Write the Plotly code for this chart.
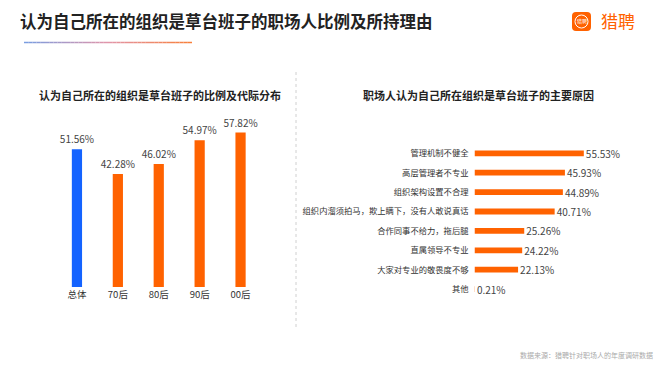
import plotly.graph_objects as go

# ---- data ----
gen_categories = ["总体", "70后", "80后", "90后", "00后"]
gen_values = [51.56, 42.28, 46.02, 54.97, 57.82]

reason_categories = [
    "管理机制不健全",
    "高层管理者不专业",
    "组织架构设置不合理",
    "组织内溜须拍马，欺上瞒下，没有人敢说真话",
    "合作同事不给力，拖后腿",
    "直属领导不专业",
    "大家对专业的敬畏度不够",
    "其他",
]
reason_values = [55.53, 45.93, 44.89, 40.71, 25.26, 24.22, 22.13, 0.21]

W, H = 660, 372
FONT = "Noto Sans CJK SC"
ORANGE = "#FF6200"
BLUE = "#1463FF"

def px(x):
    return x / W

def py(y):
    return 1 - y / H

fig = go.Figure()

gen_colors = [BLUE] + [ORANGE] * (len(gen_categories) - 1)
fig.add_trace(go.Bar(
    x=gen_categories, y=gen_values, marker=dict(color=gen_colors, line=dict(width=0)),
    width=0.25, text=[f"{v:.2f}%" for v in gen_values], textposition="outside",
    constraintext="none",
    textfont=dict(size=10, color="#444", family=FONT), cliponaxis=False,
    xaxis="x", yaxis="y", hoverinfo="skip",
))

fig.add_trace(go.Bar(
    y=reason_categories, x=reason_values, orientation="h",
    marker=dict(color=ORANGE, line=dict(width=0)), width=0.3,
    text=[f"\u2009{v:.2f}%" for v in reason_values], textposition="outside",
    constraintext="none",
    textfont=dict(size=10, color="#444", family=FONT), cliponaxis=False,
    xaxis="x2", yaxis="y2", hoverinfo="skip",
))

fig.update_layout(
    width=W, height=H, margin=dict(l=0, r=0, t=0, b=0),
    paper_bgcolor="white", plot_bgcolor="white", showlegend=False,
    font=dict(family=FONT, color="#333"),
    xaxis=dict(domain=[px(56.5), px(261)], showgrid=False, zeroline=False, showline=False,
               ticks="", tickfont=dict(size=9.5, color="#333"), fixedrange=True),
    yaxis=dict(domain=[py(287), py(100)], range=[0, 70], visible=False, fixedrange=True),
    xaxis2=dict(domain=[px(474.5), px(632)], range=[0, 80], visible=False, anchor="y2"),
    yaxis2=dict(domain=[py(298.8), py(143.6)], anchor="x2", autorange="reversed",
                showgrid=False, zeroline=False, showline=False, ticks="",
                tickfont=dict(size=8.3, color="#333"), ticklabelstandoff=5),
    bargap=0.5,
)

annotations = [
    dict(text="<b>认为自己所在的组织是草台班子的职场人比例及所持理由</b>", x=px(18), y=py(21),
         xanchor="left", yanchor="middle", font=dict(size=16.5, color="#222", family=FONT)),
    dict(text="<b>认为自己所在的组织是草台班子的比例及代际分布</b>", x=px(160), y=py(95),
         xanchor="center", yanchor="middle", font=dict(size=11, color="#222", family=FONT)),
    dict(text="<b>职场人认为自己所在组织是草台班子的主要原因</b>", x=px(478), y=py(95),
         xanchor="center", yanchor="middle", font=dict(size=11, color="#222", family=FONT)),
    dict(text="数据来源：猎聘针对职场人的年度调研数据", x=px(655), y=py(355),
         xanchor="right", yanchor="middle", font=dict(size=7, color="#aaa", family=FONT)),
    dict(text="猎聘", x=px(599), y=py(21), xanchor="left", yanchor="middle",
         font=dict(size=17, color=ORANGE, family=FONT)),
    dict(text="猎聘", x=px(581.5), y=py(21.5), xanchor="center", yanchor="middle",
         font=dict(size=5, color="white", family=FONT)),
]
for a in annotations:
    a.update(xref="paper", yref="paper", showarrow=False)
fig.update_layout(annotations=annotations)

shapes = []
# gradient underline
x0, x1, n = 24, 192, 40
c0 = (122, 157, 224)
cm = (226, 150, 170)
c1 = (248, 128, 60)
for i in range(n):
    t = i / (n - 1)
    if t < 0.5:
        u = t / 0.5
        c = tuple(int(c0[k] + (cm[k] - c0[k]) * u) for k in range(3))
    else:
        u = (t - 0.5) / 0.5
        c = tuple(int(cm[k] + (c1[k] - cm[k]) * u) for k in range(3))
    xa = x0 + (x1 - x0) * i / n
    xb = x0 + (x1 - x0) * (i + 1) / n
    shapes.append(dict(type="line", xref="paper", yref="paper", x0=px(xa), x1=px(xb),
                       y0=py(42.5), y1=py(42.5), line=dict(color=f"rgb{c}", width=1.5)))
# divider
shapes.append(dict(type="line", xref="paper", yref="paper", x0=px(296), x1=px(296),
                   y0=py(72), y1=py(330), line=dict(color="#d0d0d0", width=1, dash="dot")))
# logo: rounded orange square with white bubble outline
lx0, lx1, ly0, ly1, r = 572, 591, 12, 31, 4
path = (f"M {px(lx0 + r)},{py(ly0)} L {px(lx1 - r)},{py(ly0)} "
        f"Q {px(lx1)},{py(ly0)} {px(lx1)},{py(ly0 + r)} L {px(lx1)},{py(ly1 - r)} "
        f"Q {px(lx1)},{py(ly1)} {px(lx1 - r)},{py(ly1)} L {px(lx0 + r)},{py(ly1)} "
        f"Q {px(lx0)},{py(ly1)} {px(lx0)},{py(ly1 - r)} L {px(lx0)},{py(ly0 + r)} "
        f"Q {px(lx0)},{py(ly0)} {px(lx0 + r)},{py(ly0)} Z")
shapes.append(dict(type="path", xref="paper", yref="paper", path=path,
                   fillcolor=ORANGE, line=dict(width=0)))
shapes.append(dict(type="circle", xref="paper", yref="paper", x0=px(575), x1=px(588),
                   y0=py(28), y1=py(15), fillcolor="rgba(0,0,0,0)",
                   line=dict(color="white", width=1)))
fig.update_layout(shapes=shapes)

fig.write_html("out.html", config={"displayModeBar": False, "staticPlot": True},
               post_script="document.body.style.margin='0';")
